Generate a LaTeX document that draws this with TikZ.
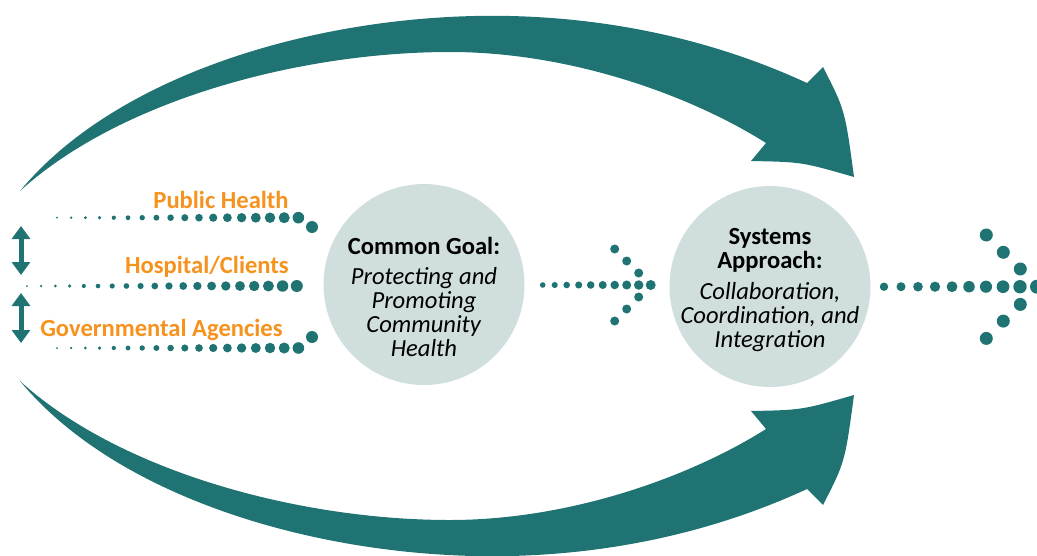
\documentclass[tikz,border=0pt]{standalone}
\usepackage{fontspec}
\setmainfont{Carlito}
\usepackage{tikz}
\usetikzlibrary{arrows.meta, positioning, calc}
\definecolor{systeal}{RGB}{31,116,115}
\definecolor{sysorange}{RGB}{246,146,30}
\definecolor{sysgray}{RGB}{208,222,222}

\begin{document}
\begin{tikzpicture}[
    x=0.02cm, y=-0.02cm,      % one unit = one pixel of the layout
    sweep/.style={fill=systeal},
    hub/.style={circle, fill=sysgray, minimum size=4.02cm, inner sep=0pt},
    hubtext/.style={align=center, font=\fontsize{14}{13.6}\selectfont},
    partner/.style={font=\fontsize{14}{16}\selectfont\bfseries, text=sysorange, inner sep=0pt},
    dot/.style={fill=systeal},
    link/.style={{Triangle[width=0.36cm,length=0.26cm]}-{Triangle[width=0.36cm,length=0.26cm]},
                 line width=0.1cm, draw=systeal}
]
\useasboundingbox (0,0) rectangle (1037,555);

% big sweeping arrows (lower one is the mirror image)
\foreach \s/\o in {1/0, -1/572} {
  \begin{scope}[shift={(0,\o)}, yscale=\s]
    \fill[sweep] (20,191) .. controls (120,70) and (330,12) .. (510,16)
      .. controls (640,19) and (740,52) .. (807,83)
      -- (823,67) .. controls (845,110) .. (854,177) .. controls (802,162) .. (751,161)
      -- (766,143) .. controls (690,95) and (570,52) .. (450,52)
      .. controls (300,52) and (120,100) .. (20,191) -- cycle;
  \end{scope}
}

% the two hubs
\node[hub] (goal) at (424,284.5) {};
\node[hub] (systems) at (770,286.5) {};
\node[hubtext] (goaltxt) at (424,297) {\textbf{Common Goal:}\\[3.5pt] \textit{Protecting and}\\ \textit{Promoting}\\ \textit{Community}\\ \textit{Health}};
\node[hubtext] (systxt) at (770,290) {\textbf{Systems}\\ \textbf{Approach:}\\[4pt] \textit{Collaboration,}\\ \textit{Coordination, and}\\ \textit{Integration}};

% partners
\node[partner, anchor=base east] (public) at (289,208) {Public Health};
\node[partner, anchor=base east] (hospital) at (289,273) {Hospital/Clients};
\node[partner, anchor=base east] (gov) at (283,336) {Governmental Agencies};

\coordinate (upA) at (21,226);
\coordinate (upB) at (21,275);
\coordinate (loA) at (21,293);
\coordinate (loB) at (21,343);
\draw[link] (upA) -- (upB);
\draw[link] (loA) -- (loB);

% dotted lines toward the common goal
\foreach \yy in {217.7, 348} {
  \foreach \i in {0,...,17} {
    \pgfmathsetmacro\xx{57+14.2*\i}
    \pgfmathsetmacro\rr{1+4.8*\i/17}
    \fill[dot] (\xx,\yy) circle[radius=\rr];
  }
}
\fill[dot] (312,227) circle[radius=6];
\fill[dot] (312,337) circle[radius=6];
\foreach \i in {0,...,19} {
  \pgfmathsetmacro\xx{27+14.2*\i}
  \pgfmathsetmacro\rr{1+5*\i/19}
  \fill[dot] (\xx,286) circle[radius=\rr];
}

% dotted arrow between the hubs
\foreach \i in {0,...,9} {
  \pgfmathsetmacro\xx{542.7+12*\i}
  \pgfmathsetmacro\rr{2.8+2.2*\i/9}
  \fill[dot] (\xx,285) circle[radius=\rr];
}
\foreach \dx/\dy in {0/-36, 12/-24, 24/-12, 24/12, 12/24, 0/36}
  \fill[dot] (614.7+\dx,285+\dy) circle[radius=4.5];

% dotted arrow leaving the systems hub
\foreach \i in {0,...,9} {
  \pgfmathsetmacro\xx{884+17*\i}
  \pgfmathsetmacro\rr{4.2+2.8*\i/9}
  \fill[dot] (\xx,286.7) circle[radius=\rr];
}
\foreach \dx/\dy in {0/-51.7, 17/-34.4, 34/-17.7, 34/17.7, 17/34.4, 0/51.7}
  \fill[dot] (986.3+\dx,286.7+\dy) circle[radius=6.5];

\end{tikzpicture}
\end{document}
